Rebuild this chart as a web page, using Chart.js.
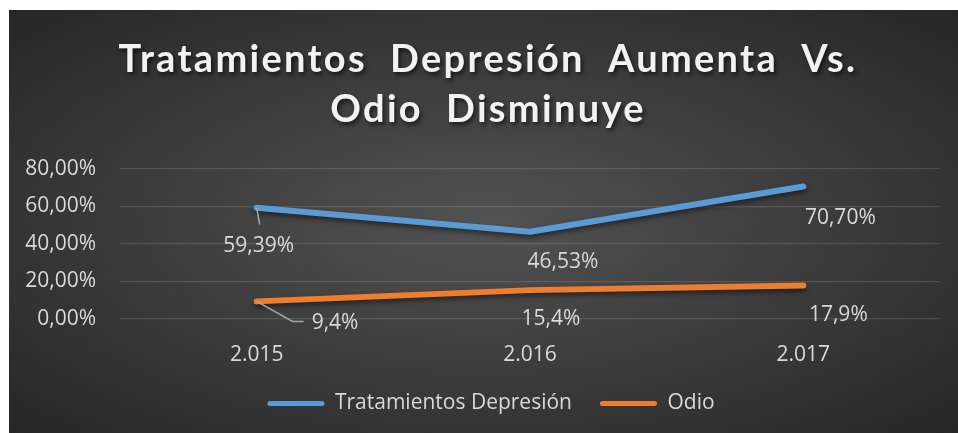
<!DOCTYPE html>
<html>
<head>
<meta charset="utf-8">
<script src="https://cdn.jsdelivr.net/npm/chart.js@4.4.0/dist/chart.umd.min.js"></script>
<style>
  html, body { margin: 0; padding: 0; background: #fff; }
  .chart-wrap {
    position: absolute; left: 9px; top: 10px; width: 949px; height: 423px;
    background: radial-gradient(ellipse at 50% 50%, #525252 0%, #3a3a3a 55%, #262626 100%);
  }
</style>
</head>
<body>
<div class="chart-wrap"><canvas id="myChart"></canvas></div>
<script>
const years = ['2.015', '2.016', '2.017'];
const depresion = [59.39, 46.53, 70.70];
const odio = [9.4, 15.4, 17.9];
const depresionLabels = ['59,39%', '46,53%', '70,70%'];
const odioLabels = ['9,4%', '15,4%', '17,9%'];
const titleLines = ['Tratamientos  Depresión  Aumenta  Vs.', 'Odio  Disminuye'];

const textColor = '#d9d9d9';
const labelFont = 'Open Sans';

// title drawn by hand so it gets letter spacing and a shadow
const titlePlugin = {
    id: 'titulo',
    afterDraw(chart) {
        const ctx = chart.ctx;
        ctx.save();
        ctx.font = 'bold 38px Lato';
        ctx.letterSpacing = '2.3px';
        ctx.fillStyle = '#f2f2f2';
        ctx.textAlign = 'center';
        ctx.textBaseline = 'alphabetic';
        ctx.shadowColor = 'rgba(0,0,0,0.6)';
        ctx.shadowBlur = 4;
        ctx.shadowOffsetX = 2;
        ctx.shadowOffsetY = 3;
        ctx.fillText(titleLines[0], 479, 62);
        ctx.fillText(titleLines[1], 479, 112);
        ctx.restore();
    }
};

// line shadow
const shadowPlugin = {
    id: 'sombra',
    beforeDatasetsDraw(chart) {
        const ctx = chart.ctx;
        ctx.save();
        ctx.shadowColor = 'rgba(0,0,0,0.5)';
        ctx.shadowBlur = 5;
        ctx.shadowOffsetY = 3;
    },
    afterDatasetsDraw(chart) {
        chart.ctx.restore();
    }
};

// nudge legend a bit to the right, like the original
const legendShift = {
    id: 'legendShift',
    afterLayout(chart) {
        chart.legend.left += 13;
        chart.legend.right += 13;
    }
};

// data labels with offsets like the original
const labelOffsets = [
    [[2, 38], [33, 30], [37, 32]],
    [[0, 0], [21, 29], [35, 30]]
];
const labelPlugin = {
    id: 'etiquetas',
    afterDatasetsDraw(chart) {
        const ctx = chart.ctx;
        const texts = [depresionLabels, odioLabels];
        ctx.save();
        ctx.font = '21px "' + labelFont + '"';
        ctx.fillStyle = textColor;
        ctx.textAlign = 'center';
        ctx.textBaseline = 'middle';
        chart.data.datasets.forEach((ds, i) => {
            chart.getDatasetMeta(i).data.forEach((pt, j) => {
                if (i === 1 && j === 0) {
                    // leader line for 9,4%
                    ctx.strokeStyle = '#a6a6a6';
                    ctx.lineWidth = 1.5;
                    ctx.beginPath();
                    ctx.moveTo(pt.x, pt.y);
                    ctx.lineTo(pt.x + 36, pt.y + 20);
                    ctx.lineTo(pt.x + 47, pt.y + 20);
                    ctx.stroke();
                    ctx.textAlign = 'left';
                    ctx.fillText(texts[i][j], pt.x + 55, pt.y + 22);
                    ctx.textAlign = 'center';
                    return;
                }
                if (i === 0 && j === 0) {
                    ctx.strokeStyle = '#a6a6a6';
                    ctx.lineWidth = 1.5;
                    ctx.beginPath();
                    ctx.moveTo(pt.x, pt.y);
                    ctx.lineTo(pt.x + 3, pt.y + 17);
                    ctx.stroke();
                }
                const off = labelOffsets[i][j];
                ctx.fillText(texts[i][j], pt.x + off[0], pt.y + off[1]);
            });
        });
        ctx.restore();
    }
};

const myChart = document.getElementById('myChart').getContext('2d');

const chart = new Chart(myChart, {
    type: 'line',
    data: {
        labels: years,
        datasets: [{
            label: 'Tratamientos Depresión',
            data: depresion,
            borderColor: '#5b9bd5',
            backgroundColor: '#5b9bd5',
            borderWidth: 6,
            borderCapStyle: 'round',
            borderJoinStyle: 'round',
            pointRadius: 0,
            tension: 0
        }, {
            label: 'Odio',
            data: odio,
            borderColor: '#ed7d31',
            backgroundColor: '#ed7d31',
            borderWidth: 6,
            borderCapStyle: 'round',
            borderJoinStyle: 'round',
            pointRadius: 0,
            tension: 0
        }]
    },
    options: {
        responsive: true,
        maintainAspectRatio: false,
        animation: false,
        layout: {
            padding: { top: 159, right: 18, left: 7, bottom: 9 }
        },
        plugins: {
            title: { display: false },
            tooltip: { enabled: false },
            legend: {
                display: true,
                position: 'bottom',
                labels: {
                    color: textColor,
                    font: { family: labelFont, size: 21 },
                    boxWidth: 57,
                    boxHeight: 5,
                    padding: 28,
                    useBorderRadius: true,
                    borderRadius: 2.5,
                    generateLabels: c => c.data.datasets.map((ds, i) => ({
                        text: ds.label,
                        fillStyle: ds.borderColor,
                        strokeStyle: ds.borderColor,
                        lineWidth: 0,
                        fontColor: textColor,
                        datasetIndex: i,
                        borderRadius: 2.5
                    }))
                }
            }
        },
        scales: {
            x: {
                offset: true,
                grid: { display: false },
                border: { display: false },
                afterFit: s => { s.height = 46; },
                ticks: {
                    color: textColor,
                    font: { family: labelFont, size: 21 },
                    padding: 15
                }
            },
            y: {
                min: 0,
                max: 80,
                border: { display: false },
                grid: { color: 'rgba(255,255,255,0.13)', lineWidth: 1.3, drawTicks: false },
                afterFit: s => { s.width = 104; },
                ticks: {
                    stepSize: 20,
                    color: textColor,
                    font: { family: labelFont, size: 21 },
                    padding: 24,
                    callback: v => v.toFixed(2).replace('.', ',') + '%'
                }
            }
        }
    },
    plugins: [shadowPlugin, labelPlugin, titlePlugin, legendShift]
});
</script>
</body>
</html>
